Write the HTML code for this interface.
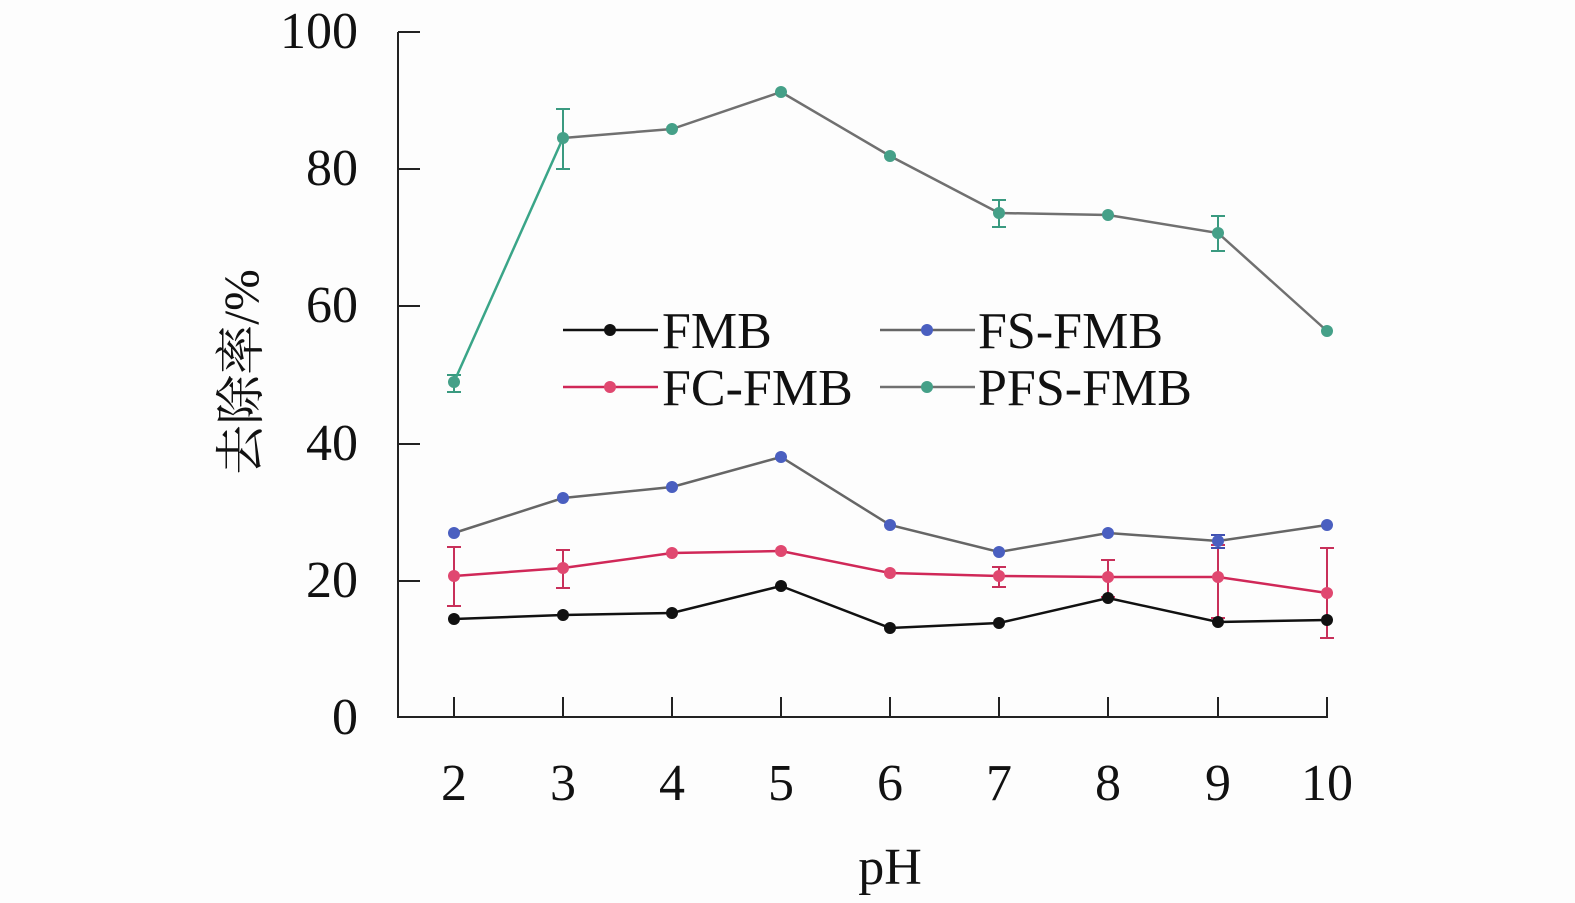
<!DOCTYPE html><html><head><style>body{margin:0;background:#fff}svg{display:block}text{font-family:"Liberation Serif","Noto Serif CJK SC",serif;fill:#111}</style></head><body>
<svg width="1575" height="903" viewBox="0 0 1575 903">
<rect width="1575" height="903" fill="#fdfdfd"/>
<g stroke="#222" stroke-width="2" fill="none">
<path d="M398 32V717H1328"/>
<path d="M398 32h22M398 169h22M398 306h22M398 444h22M398 581h22"/>
<path d="M454 697v20M563 697v20M672 697v20M781 697v20M890 697v20M999 697v20M1108 697v20M1218 697v20M1327 697v20"/>
</g>
<g font-size="52" text-anchor="end">
<text x="358" y="48">100</text><text x="358" y="185">80</text><text x="358" y="322">60</text><text x="358" y="460">40</text><text x="358" y="597">20</text><text x="358" y="734">0</text></g>
<g font-size="52" text-anchor="middle">
<text x="454" y="800">2</text><text x="563" y="800">3</text><text x="672" y="800">4</text><text x="781" y="800">5</text><text x="890" y="800">6</text><text x="999" y="800">7</text><text x="1108" y="800">8</text><text x="1218" y="800">9</text><text x="1327" y="800">10</text>
<text x="890" y="884">pH</text></g>
<text transform="translate(258 372) rotate(-90)" font-size="50" text-anchor="middle">去除率/%</text>
<g stroke-width="2" fill="none">
<path stroke="#3a9a80" d="M454 375v17M447 375h14M447 392h14M563 109v60M556 109h14M556 169h14M999 200v27M992 200h14M992 227h14M1218 216v35M1211 216h14M1211 251h14"/>
<path stroke="#c8305a" d="M454 547v59M447 547h14M447 606h14M563 550v38M556 550h14M556 588h14M999 567v20M992 567h14M992 587h14M1108 560v37M1101 560h14M1101 597h14M1218 545v73M1211 545h14M1211 618h14M1327 548v90M1320 548h14M1320 638h14"/>
<path stroke="#4050b0" d="M1218 535v13M1211 535h14M1211 548h14"/>
</g>
<g stroke-width="2.5" fill="none">
<polyline stroke="#111" points="454,619 563,615 672,613 781,586 890,628 999,623 1108,598 1218,622 1327,620"/>
<polyline stroke="#666" points="454,533 563,498 672,487 781,457 890,525 999,552 1108,533 1218,541 1327,525"/>
<polyline stroke="#d02858" points="454,576 563,568 672,553 781,551 890,573 999,576 1108,577 1218,577 1327,593"/>
<polyline stroke="#707070" points="563,138 672,129 781,92 890,156 999,213 1108,215 1218,233 1327,331"/>
<polyline stroke="#3aa588" points="454,382 563,138"/>
</g>
<g fill="#111"><circle cx="454" cy="619" r="6"/><circle cx="563" cy="615" r="6"/><circle cx="672" cy="613" r="6"/><circle cx="781" cy="586" r="6"/><circle cx="890" cy="628" r="6"/><circle cx="999" cy="623" r="6"/><circle cx="1108" cy="598" r="6"/><circle cx="1218" cy="622" r="6"/><circle cx="1327" cy="620" r="6"/></g>
<g fill="#4a5fc0"><circle cx="454" cy="533" r="6"/><circle cx="563" cy="498" r="6"/><circle cx="672" cy="487" r="6"/><circle cx="781" cy="457" r="6"/><circle cx="890" cy="525" r="6"/><circle cx="999" cy="552" r="6"/><circle cx="1108" cy="533" r="6"/><circle cx="1218" cy="541" r="6"/><circle cx="1327" cy="525" r="6"/></g>
<g fill="#e04870"><circle cx="454" cy="576" r="6"/><circle cx="563" cy="568" r="6"/><circle cx="672" cy="553" r="6"/><circle cx="781" cy="551" r="6"/><circle cx="890" cy="573" r="6"/><circle cx="999" cy="576" r="6"/><circle cx="1108" cy="577" r="6"/><circle cx="1218" cy="577" r="6"/><circle cx="1327" cy="593" r="6"/></g>
<g fill="#45a088"><circle cx="454" cy="382" r="6"/><circle cx="563" cy="138" r="6"/><circle cx="672" cy="129" r="6"/><circle cx="781" cy="92" r="6"/><circle cx="890" cy="156" r="6"/><circle cx="999" cy="213" r="6"/><circle cx="1108" cy="215" r="6"/><circle cx="1218" cy="233" r="6"/><circle cx="1327" cy="331" r="6"/></g>
<g stroke-width="2.5">
<line x1="563" y1="330" x2="658" y2="330" stroke="#111"/><circle cx="610" cy="330" r="6" fill="#111"/>
<line x1="563" y1="387" x2="658" y2="387" stroke="#d02858"/><circle cx="610" cy="387" r="6" fill="#e04870"/>
<line x1="880" y1="330" x2="975" y2="330" stroke="#666"/><circle cx="927" cy="330" r="6" fill="#4a5fc0"/>
<line x1="880" y1="387" x2="975" y2="387" stroke="#707070"/><circle cx="927" cy="387" r="6" fill="#45a088"/>
</g>
<g font-size="52">
<text x="662" y="348">FMB</text><text x="662" y="405">FC-FMB</text>
<text x="978" y="348">FS-FMB</text><text x="978" y="405">PFS-FMB</text></g>
</svg></body></html>
